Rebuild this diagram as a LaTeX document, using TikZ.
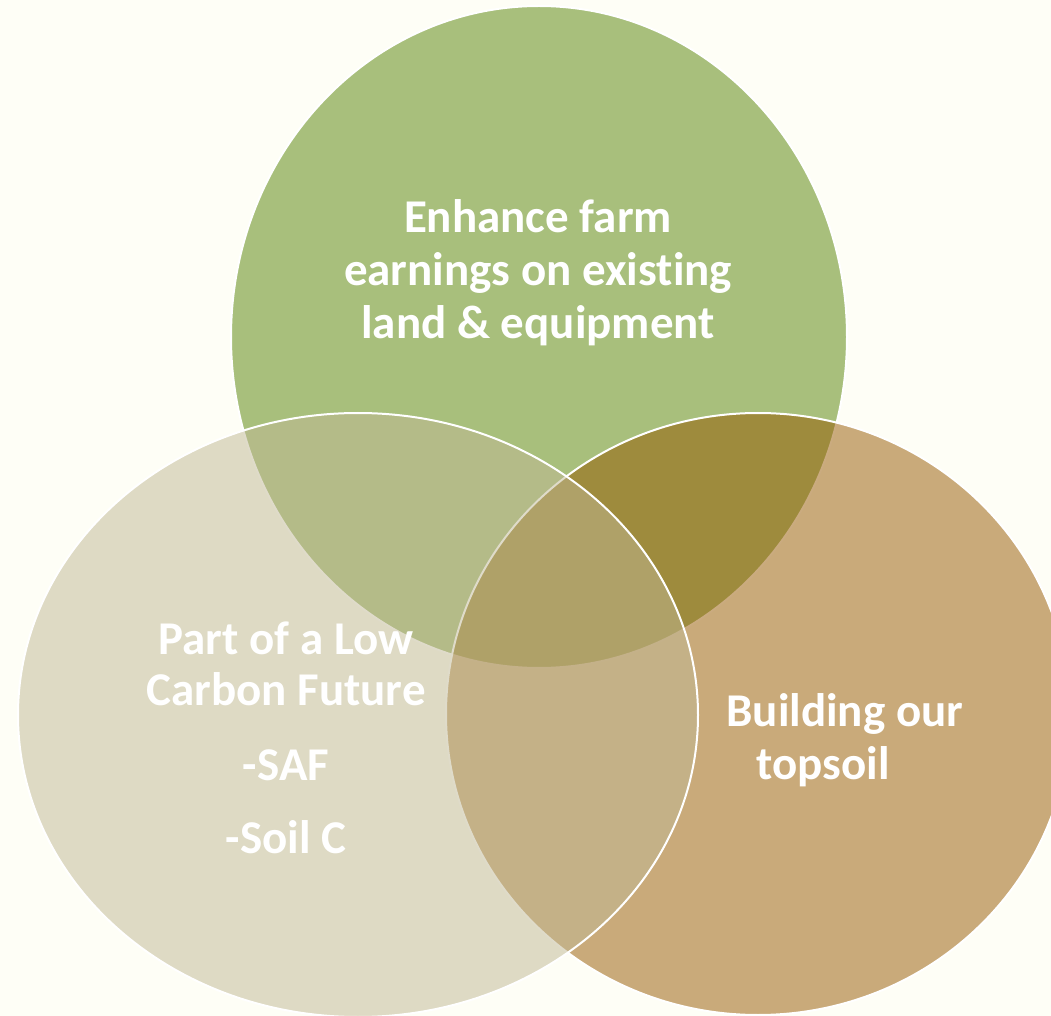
\documentclass[tikz,border=0pt]{standalone}
\usepackage{fontspec}
\setmainfont{Carlito}[Ligatures=NoCommon]
\usepackage{tikz}
\usetikzlibrary{positioning}
\usepackage{xcolor}

\definecolor{pagebg}{RGB}{254,254,246}
\definecolor{earngreen}{RGB}{168,191,124}
\definecolor{soilbrown}{RGB}{150,88,0}
\definecolor{carbonsand}{RGB}{192,184,148}

\begin{document}
\begin{tikzpicture}[x=0.5pt, y=-0.5pt,
    venn/.style={draw=white, line width=1pt},
    label/.style={text=white, font=\fontsize{23.5}{26.5}\selectfont\bfseries, inner sep=0pt}]
            % Page
            \clip (0,0) rectangle (1051,1016);
            \fill[pagebg] (0,0) rectangle (1051,1016);

            % Circles
            \filldraw[venn, fill=earngreen] (539,337) ellipse [x radius=308, y radius=331];
            \filldraw[venn, fill=soilbrown, fill opacity=0.5] (758,714) ellipse [x radius=312, y radius=301];
            \filldraw[venn, fill=carbonsand, fill opacity=0.5] (358,715) ellipse [x radius=340, y radius=302];

            % Labels
            \node[label, align=center] (earn) at (538,273) {Enhance farm\\earnings on existing\\land \& equipment};
            \node[label, align=center, font=\fontsize{23.5}{25.5}\selectfont\bfseries] (carbon) at (286,738) {Part of a Low\\Carbon Future\\[12pt]-SAF\\[11pt]-Soil C};
            \node[label, align=left, anchor=west] (soil) at (726,740) {Building our\\\hspace*{15pt}topsoil};
        \end{tikzpicture}
\end{document}
